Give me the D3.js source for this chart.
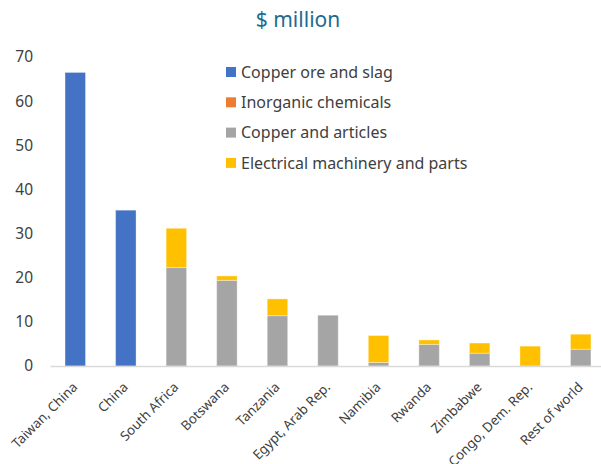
<!DOCTYPE html>
<html>
<head>
<meta charset="utf-8">
<script src="https://cdn.jsdelivr.net/npm/d3@7"></script>
<style>
  html, body { margin: 0; padding: 0; background: #fff; }
  svg { display: block; font-family: "Noto Sans", "Open Sans", sans-serif; }
</style>
</head>
<body>
<svg id="chart" width="601" height="464"></svg>
<script>
// Export destinations and product breakdown ($ million)
const categories = ["Taiwan, China", "China", "South Africa", "Botswana", "Tanzania",
  "Egypt, Arab Rep.", "Namibia", "Rwanda", "Zimbabwe", "Congo, Dem. Rep.", "Rest of world"];
const seriesNames = ["Copper ore and slag", "Inorganic chemicals", "Copper and articles", "Electrical machinery and parts"];
const copperOre    = [66.5, 35.3, 0, 0, 0, 0, 0, 0, 0, 0, 0];
const inorganic    = [0, 0, 0, 0, 0, 0, 0, 0, 0, 0, 0];
const copperArt    = [0, 0, 22.3, 19.4, 11.4, 11.5, 0.8, 4.9, 2.9, 0, 3.8];
const electrical   = [0, 0, 8.9, 1.0, 3.8, 0, 6.1, 1.0, 2.3, 4.5, 3.4];
const yTicks = [0, 10, 20, 30, 40, 50, 60, 70];
const colors = ["#4472C4", "#ED7D31", "#A5A5A5", "#FFC000"];

const seriesValues = [copperOre, inorganic, copperArt, electrical];
const rows = categories.map((c, i) => {
  const r = { category: c };
  seriesNames.forEach((s, k) => r[s] = seriesValues[k][i]);
  return r;
});

const svg = d3.select("#chart");
const margin = { left: 50, right: 606, top: 57, bottom: 366 };

const x = d3.scaleBand().domain(categories).range([margin.left, margin.right]).paddingInner(0.595).paddingOuter(0.2975);
const y = d3.scaleLinear().domain([0, 70]).range([margin.bottom, margin.top]);

const stacked = d3.stack().keys(seriesNames)(rows);

// Title
svg.append("text")
  .attr("x", 298).attr("y", 27)
  .attr("text-anchor", "middle")
  .attr("fill", "#1F6B8E")
  .attr("font-size", 21)
  .text("$ million");

// Y axis labels (no line, no gridlines)
const yAxis = d3.axisLeft(y).tickValues(yTicks).tickSize(0).tickPadding(0);
const yG = svg.append("g").attr("transform", "translate(33,0)").call(yAxis);
yG.select(".domain").remove();
yG.selectAll("text").attr("font-size", 15.5).attr("fill", "#404040").attr("font-family", "'Noto Sans', sans-serif");

// Bars
svg.append("g").selectAll("g")
  .data(stacked)
  .join("g")
  .attr("fill", (d, i) => colors[i])
  .selectAll("rect")
  .data(d => d.filter(p => p[1] - p[0] > 0))
  .join("rect")
  .attr("x", d => x(d.data.category))
  .attr("y", d => y(d[1]))
  .attr("width", x.bandwidth())
  .attr("height", d => y(d[0]) - y(d[1]))
  .attr("stroke", "#ffffff")
  .attr("stroke-opacity", 0.35)
  .attr("stroke-width", 1);

// X axis
const xAxis = d3.axisBottom(x).tickSize(0).tickPadding(0);
const xG = svg.append("g").attr("transform", `translate(0,${margin.bottom})`).call(xAxis);
xG.select(".domain").attr("stroke", "#D9D9D9").attr("stroke-width", 1.5);
xG.selectAll("text")
  .attr("font-size", 13.3)
  .attr("fill", "#404040")
  .attr("font-family", "'Noto Sans', sans-serif")
  .attr("text-anchor", "end")
  .attr("dy", null)
  .attr("y", 0)
  .attr("transform", "translate(3,22) rotate(-45)");

// Legend
const legend = svg.append("g").selectAll("g")
  .data(seriesNames)
  .join("g")
  .attr("transform", (d, i) => `translate(226,${72 + i * 30.3})`);
legend.append("rect")
  .attr("x", 0).attr("y", -5).attr("width", 10).attr("height", 10)
  .attr("fill", (d, i) => colors[i]);
legend.append("text")
  .attr("x", 15).attr("y", 0).attr("dy", "0.35em")
  .attr("font-size", 16)
  .attr("fill", "#404040")
  .text(d => d);
</script>
</body>
</html>
